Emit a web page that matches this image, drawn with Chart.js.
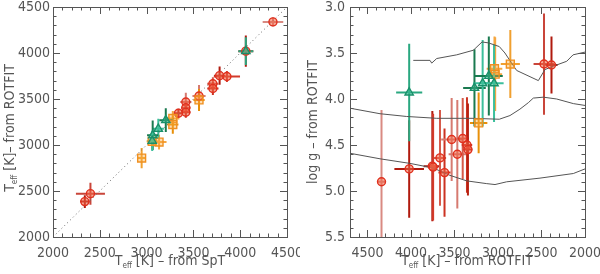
<!DOCTYPE html>
<html><head><meta charset="utf-8">
<script src="https://cdn.jsdelivr.net/npm/chart.js@4.4.1/dist/chart.umd.min.js"></script>
<style>
html,body{margin:0;padding:0;background:#fff;overflow:hidden}
#wrap{position:relative;width:600px;height:274px}
canvas{position:absolute;top:0}
#c1{left:0}#c2{left:300px}
</style></head><body>
<div id="wrap"><canvas id="c1" width="300" height="274"></canvas><canvas id="c2" width="300" height="274"></canvas></div>
<script>
// ---------- DATA ----------
// Red circles
const redSpT      = [4350, 4060, 3780, 3858, 3708, 3708, 3560, 3419, 3419, 3419, 3340, 2400, 2340];
const redSpTErr   = [110, 80, 60, 140, 60, 60, 70, 60, 50, 50, 50, 155, 50];
const redRot      = [4338, 4020, 3754, 3745, 3666, 3614, 3532, 3467, 3405, 3356, 3345, 2471, 2385];
const redRotErr   = [50, 170, 100, 60, 70, 70, 120, 100, 70, 60, 50, 120, 70];
const redLogg     = [4.90, 4.76, 4.73, 4.74, 4.64, 4.80, 4.44, 4.60, 4.43, 4.50, 4.55, 3.62, 3.63];
const redLoggErr  = [0.78, 0.53, 0.60, 0.58, 0.52, 0.48, 0.45, 0.59, 0.44, 0.52, 0.50, 0.55, 0.31];
const redColors   = ['#d98a82','#b01a0e','#b01a0e','#d33a2a','#d65a4a','#cc3322','#d67a70','#d67a70','#d65a4a','#cc3322','#b82010','#c9453a','#b01a0e'];
// Green triangles
const greenSpT     = [4060, 3205, 3125, 3065, 3060];
const greenSpTErr  = [80, 70, 60, 60, 50];
const greenRot     = [4020, 3270, 3176, 3105, 3045];
const greenRotErr  = [150, 130, 110, 160, 110];
const greenLogg    = [3.93, 3.88, 3.83, 3.75, 3.83];
const greenLoggErr = [0.53, 0.42, 0.47, 0.43, 0.42];
const greenColors  = ['#2aa880','#1a7a50','#3cbf9c','#1a7a50','#3cbf9c'];
// Orange squares
const orangeSpT     = [3560, 3280, 3280, 3060, 3133, 2947];
const orangeSpTErr  = [60, 70, 60, 60, 80, 45];
const orangeRot     = [3490, 3289, 3222, 3040, 3032, 2858];
const orangeRotErr  = [120, 80, 100, 90, 80, 110];
const orangeLogg    = [null, null, 4.26, 3.67, 3.73, 3.62];
const orangeLoggErr = [null, null, 0.33, 0.35, 0.40, 0.37];
const orangeColors  = ['#e8900a','#f5a640','#e8900a','#f5a640','#f5a640','#f0a030'];
// 1:1 line
const oneToOne = [2000, 4500];
// Isochrones (right panel)
const iso1T = [3973, 3781, 3761, 3704, 3474, 3283, 3183, 3110, 2985, 2920, 2850, 2785, 2536, 2460, 2383, 2210, 2137, 2000];
const iso1G = [3.58, 3.58, 3.61, 3.56, 3.52, 3.47, 3.38, 3.39, 3.43, 3.50, 3.60, 3.69, 3.80, 3.68, 3.65, 3.59, 3.52, 3.49];
const iso2T = [4700, 4355, 4049, 3704, 3287, 2985, 2862, 2747, 2651, 2594, 2479, 2325, 2134, 2000];
const iso2G = [4.10, 4.16, 4.19, 4.21, 4.21, 4.22, 4.18, 4.11, 4.04, 3.99, 3.98, 4.00, 4.05, 4.07];
const iso3T = [4700, 4355, 4011, 3743, 3551, 3359, 3129, 3034, 2900, 2517, 2134, 2000];
const iso3G = [4.59, 4.65, 4.70, 4.75, 4.83, 4.89, 4.92, 4.93, 4.90, 4.86, 4.81, 4.76];
// Tick labels
const leftTicks   = [2000, 2500, 3000, 3500, 4000, 4500];
const rightXTicks = [4500, 4000, 3500, 3000, 2500, 2000];
const rightYTicks = [3.0, 3.5, 4.0, 4.5, 5.0, 5.5];

// ---------- STYLE ----------
const FONT = '"Liberation Sans Narrow","DejaVu Sans Condensed","Liberation Sans",sans-serif';
const TXT = '#555';
Chart.defaults.font.family = FONT;
Chart.defaults.font.size = 14;
Chart.defaults.color = TXT;

const pairs = (xs, ys) => xs.map((v, i) => ({x: v, y: ys[i]}));

function markerSet(kind, data, ex, ey, cols) {
  const st = {
    red:    {pointStyle:'circle',   pointRadius:4,   borderColor:'#e0301e', backgroundColor:'rgba(240,100,70,0.55)'},
    green:  {pointStyle:'triangle', pointRadius:4.8, borderColor:'#18906a', backgroundColor:'rgba(60,190,150,0.45)'},
    orange: {pointStyle:'rect',     pointRadius:5.6, borderColor:'#f09020', backgroundColor:'rgba(250,170,60,0.4)'}
  }[kind];
  return Object.assign({data, errX: ex, errY: ey, errColor: cols, showLine:false, pointBorderWidth:1.4, borderWidth:1.4}, st);
}
function lineSet(data, dash) {
  return {data, showLine:true, pointRadius:0, borderColor: dash ? '#666' : '#555', borderWidth:1, borderDash: dash ? [1,3] : [], tension:0, fill:false};
}

const errPlugin = {
  id:'errbars',
  beforeDatasetsDraw(chart) {
    const {ctx, chartArea:a, scales:{x, y}} = chart;
    ctx.save();
    ctx.beginPath(); ctx.rect(a.left, a.top, a.right - a.left, a.bottom - a.top); ctx.clip();
    ctx.lineWidth = 2;
    const sets = chart.data.datasets;
    for (let i = sets.length - 1; i >= 0; i--) {
      const ds = sets[i];
      if (!ds.errX) continue;
      ds.data.forEach((p, j) => {
        ctx.strokeStyle = ds.errColor[j];
        const px = x.getPixelForValue(p.x), py = y.getPixelForValue(p.y);
        ctx.beginPath();
        ctx.moveTo(x.getPixelForValue(p.x - ds.errX[j]), py);
        ctx.lineTo(x.getPixelForValue(p.x + ds.errX[j]), py);
        ctx.moveTo(px, y.getPixelForValue(p.y - ds.errY[j]));
        ctx.lineTo(px, y.getPixelForValue(p.y + ds.errY[j]));
        ctx.stroke();
      });
    }
    ctx.restore();
  }
};

function drawTitle(ctx, cx, cy, rot, parts) {
  ctx.save(); ctx.translate(cx, cy); ctx.rotate(rot);
  let total = 0;
  parts.forEach(p => { ctx.font = p.size + 'px ' + FONT; p.w = ctx.measureText(p.t).width; total += p.w; });
  let xx = -total / 2; ctx.textBaseline = 'alphabetic'; ctx.fillStyle = TXT;
  parts.forEach(p => { ctx.font = p.size + 'px ' + FONT; ctx.fillText(p.t, xx, 5 + (p.dy || 0)); xx += p.w; });
  ctx.restore();
}

function frameTicks(chart, xMin, xMax, xMaj, yMin, yMax, yMaj, yMinorStep, xMinorStep) {
  const {ctx, chartArea:a, scales:{x, y}} = chart;
  ctx.save();
  ctx.strokeStyle = '#555'; ctx.lineWidth = 1;
  ctx.strokeRect(Math.round(a.left) + 0.5, Math.round(a.top) + 0.5, Math.round(a.right - a.left), Math.round(a.bottom - a.top));
  ctx.beginPath();
  const nX = Math.round((xMax - xMin) / xMinorStep);
  for (let k = 0; k <= nX; k++) {
    const v = xMin + k * xMinorStep;
    const major = Math.abs(v / xMaj - Math.round(v / xMaj)) < 1e-6;
    const L = major ? 7 : 3.5;
    const px = Math.round(x.getPixelForValue(v)) + 0.5;
    ctx.moveTo(px, a.bottom); ctx.lineTo(px, a.bottom - L);
    ctx.moveTo(px, a.top); ctx.lineTo(px, a.top + L);
  }
  const nY = Math.round((yMax - yMin) / yMinorStep);
  for (let k = 0; k <= nY; k++) {
    const v = yMin + k * yMinorStep;
    const major = Math.abs(v / yMaj - Math.round(v / yMaj)) < 1e-6;
    const L = major ? 7 : 3.5;
    const py = Math.round(y.getPixelForValue(v)) + 0.5;
    ctx.moveTo(a.left, py); ctx.lineTo(a.left + L, py);
    ctx.moveTo(a.right, py); ctx.lineTo(a.right - L, py);
  }
  ctx.stroke();
  ctx.restore();
}

const commonOpts = {
  responsive:false, animation:false, devicePixelRatio:1,
  plugins:{legend:{display:false}, tooltip:{enabled:false}}
};

// ---------- LEFT CHART ----------
new Chart(document.getElementById('c1'), {
  type:'scatter',
  data:{datasets:[
    markerSet('green',  pairs(greenSpT, greenRot),   greenSpTErr,  greenRotErr,  greenColors),
    markerSet('orange', pairs(orangeSpT, orangeRot), orangeSpTErr, orangeRotErr, orangeColors),
    markerSet('red',    pairs(redSpT, redRot),       redSpTErr,    redRotErr,    redColors),
    lineSet(pairs(oneToOne, oneToOne), true)
  ]},
  options:Object.assign({}, commonOpts, {
    layout:{padding:{left:0, right:13, top:4, bottom:0}},
    scales:{
      x:{type:'linear', min:2000, max:4500, grid:{display:false, drawTicks:false}, border:{display:false},
         ticks:{padding:8, color:TXT, maxRotation:0, callback:v => String(v)},
         afterBuildTicks:s => { s.ticks = leftTicks.map(v => ({value:v})); },
         afterFit:s => { s.height = 37; s.paddingLeft = 0; s.paddingRight = 0; }},
      y:{type:'linear', min:2000, max:4500, grid:{display:false, drawTicks:false}, border:{display:false},
         ticks:{padding:3, color:TXT, callback:v => String(v)},
         afterBuildTicks:s => { s.ticks = leftTicks.map(v => ({value:v})); },
         afterFit:s => { s.width = 53; s.paddingTop = 0; s.paddingBottom = 0; }}
    }
  }),
  plugins:[errPlugin, {
    id:'deco1',
    afterDraw(chart) {
      frameTicks(chart, 2000, 4500, 500, 2000, 4500, 500, 100, 100);
      drawTitle(chart.ctx, 170, 260, 0, [{t:'T', size:14}, {t:'eff', size:8, dy:3}, {t:' [K] \u2013 from SpT', size:14}]);
      drawTitle(chart.ctx, 9, 128, -Math.PI/2, [{t:'T', size:14}, {t:'eff', size:8, dy:3}, {t:' [K]\u2013 from ROTFIT', size:14}]);
    }
  }]
});

// ---------- RIGHT CHART ----------
const orangeRight = orangeRot.map((v, i) => ({x:v, y:orangeLogg[i], ex:orangeRotErr[i], ey:orangeLoggErr[i], c:orangeColors[i]})).filter(p => p.y !== null);
new Chart(document.getElementById('c2'), {
  type:'scatter',
  data:{datasets:[
    markerSet('green',  pairs(greenRot, greenLogg), greenRotErr, greenLoggErr, greenColors),
    markerSet('orange', orangeRight.map(p => ({x:p.x, y:p.y})), orangeRight.map(p => p.ex), orangeRight.map(p => p.ey), orangeRight.map(p => p.c)),
    markerSet('red',    pairs(redRot, redLogg),     redRotErr,   redLoggErr,   redColors),
    lineSet(pairs(iso1T, iso1G), false),
    lineSet(pairs(iso2T, iso2G), false),
    lineSet(pairs(iso3T, iso3G), false)
  ]},
  options:Object.assign({}, commonOpts, {
    layout:{padding:{left:0, right:15, top:3, bottom:0}},
    scales:{
      x:{type:'linear', reverse:true, min:2000, max:4700, grid:{display:false, drawTicks:false}, border:{display:false},
         ticks:{padding:8, color:TXT, maxRotation:0, callback:v => String(v)},
         afterBuildTicks:s => { s.ticks = rightXTicks.map(v => ({value:v})); },
         afterFit:s => { s.height = 37; s.paddingLeft = 0; s.paddingRight = 0; }},
      y:{type:'linear', reverse:true, min:3.0, max:5.5, grid:{display:false, drawTicks:false}, border:{display:false},
         ticks:{padding:5, color:TXT, callback:v => Number(v).toFixed(1)},
         afterBuildTicks:s => { s.ticks = rightYTicks.map(v => ({value:v})); },
         afterFit:s => { s.width = 50; s.paddingTop = 0; s.paddingBottom = 0; }}
    }
  }),
  plugins:[errPlugin, {
    id:'deco2',
    afterDraw(chart) {
      frameTicks(chart, 2000, 4700, 500, 3.0, 5.5, 0.5, 0.1, 100);
      drawTitle(chart.ctx, 167, 260, 0, [{t:'T', size:14}, {t:'eff', size:8, dy:3}, {t:' [K] \u2013 from ROTFIT', size:14}]);
      drawTitle(chart.ctx, 12, 122, -Math.PI/2, [{t:'log g \u2013 from ROTFIT', size:14}]);
    }
  }]
});
</script>
</body></html>
